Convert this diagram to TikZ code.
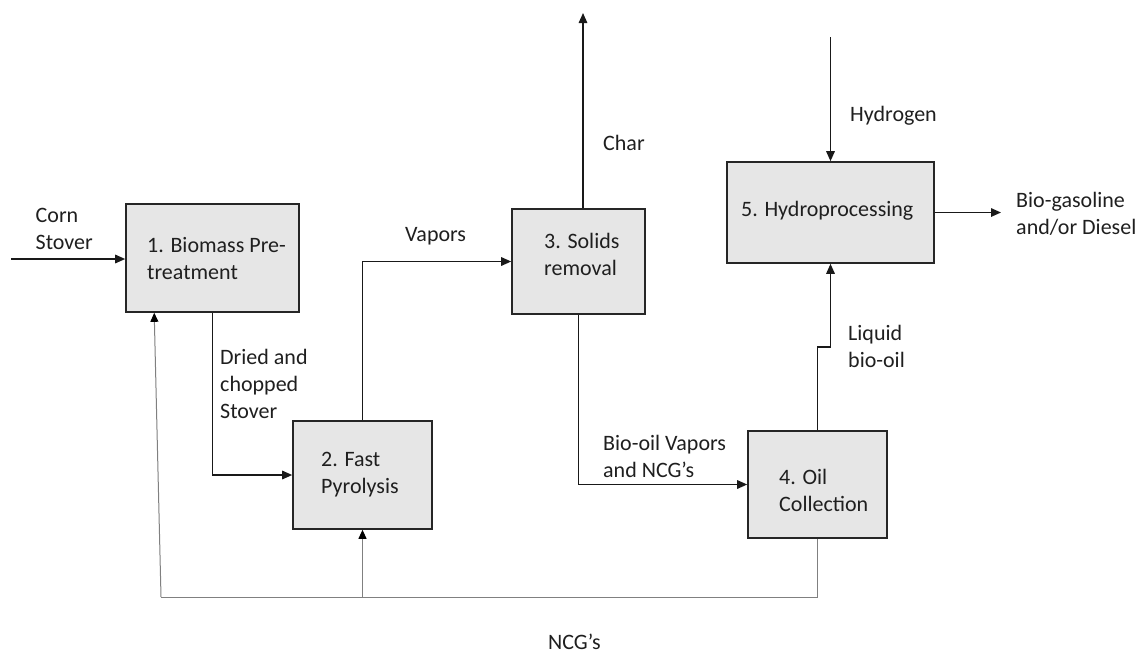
\documentclass[tikz,border=0pt]{standalone}
\usepackage{fontspec}
\setmainfont{Carlito}
\usetikzlibrary{arrows.meta}
\definecolor{boxfill}{HTML}{E6E6E6}
\definecolor{boxline}{HTML}{262626}
\definecolor{ncggray}{HTML}{808080}
\tikzset{
  box/.style={draw=boxline, fill=boxfill, line width=1.6pt, inner sep=0pt},
  lbl/.style={anchor=west, inner sep=0pt, align=left, font=\fontsize{22pt}{27pt}\selectfont, text=black!88},
  arr/.style={draw=black!90, line width=1.5pt, -{Triangle[length=10pt,width=8.5pt]}},
  ncg/.style={draw=ncggray, line width=1pt},
  ncgarr/.style={ncg, -{Triangle[length=9pt,width=8pt,color=black]}}
}
\begin{document}
\begin{tikzpicture}[x=1pt,y=-1pt]
\useasboundingbox (0,0) rectangle (1139,657);
% boxes
\node[box, minimum width=173pt, minimum height=108pt] (b1) at (212.5,258) {};
\node[box, minimum width=139pt, minimum height=108pt] (b2) at (362.5,475) {};
\node[box, minimum width=133pt, minimum height=105pt] (b3) at (578.5,261.5) {};
\node[box, minimum width=139pt, minimum height=107pt] (b4) at (817.5,484.5) {};
\node[box, minimum width=207pt, minimum height=101pt] (b5) at (830.5,212.5) {};
% box texts
\node[lbl] (t1) at (147,258.5) {1. Biomass Pre-\\treatment};
\node[lbl] (t2) at (321,475) {2. Fast\\Pyrolysis};
\node[lbl] (t3) at (544,254) {3. Solids\\removal};
\node[lbl] (t4) at (779,490.5) {4. Oil\\Collection};
\node[lbl] (t5) at (741,211) {5. Hydroprocessing};
% stream labels
\node[lbl] (lcorn) at (35.5,229) {Corn\\Stover};
\node[lbl] (ldried) at (220,384) {Dried and\\chopped\\Stover};
\node[lbl] (lvap) at (405,236) {Vapors};
\node[lbl] (lchar) at (603,143) {Char};
\node[lbl] (lh2) at (850,116) {Hydrogen};
\node[lbl] (lbg) at (1016,213.5) {Bio-gasoline\\and/or Diesel};
\node[lbl] (lliq) at (848,346.5) {Liquid\\bio-oil};
\node[lbl] (lbio) at (603,456.5) {Bio-oil Vapors\\and NCG’s};
\node[lbl] (lncg) at (548,642) {NCG’s};
% free ends
\coordinate (cin) at (11,259);
\coordinate (charout) at (583,13);
\coordinate (h2in) at (830.5,37);
\coordinate (bgout) at (1001,212.5);
\coordinate (jog) at (830.5,347);
\coordinate (ncgL) at (161,597);
% connectors
\draw[arr] (cin) -- (cin -| b1.west);
\draw[arr] (b1.south) |- (b2.west);
\draw[arr] (b2.north) |- (b3.west);
\draw[arr] (charout |- b3.north) -- (charout);
\draw[arr] (b3.south) |- (b4.west);
\draw[arr] (b4.north) |- (jog) -- (b5.south);
\draw[arr] (h2in) -- (b5.north);
\draw[arr] (b5.east) -- (bgout);
% NCG recycle
\draw[ncg] (b4.south) |- (ncgL);
\draw[ncgarr] (ncgL) -- ([xshift=29pt]b1.south west);
\draw[ncgarr] (b2.south |- ncgL) -- (b2.south);
\end{tikzpicture}
\end{document}
